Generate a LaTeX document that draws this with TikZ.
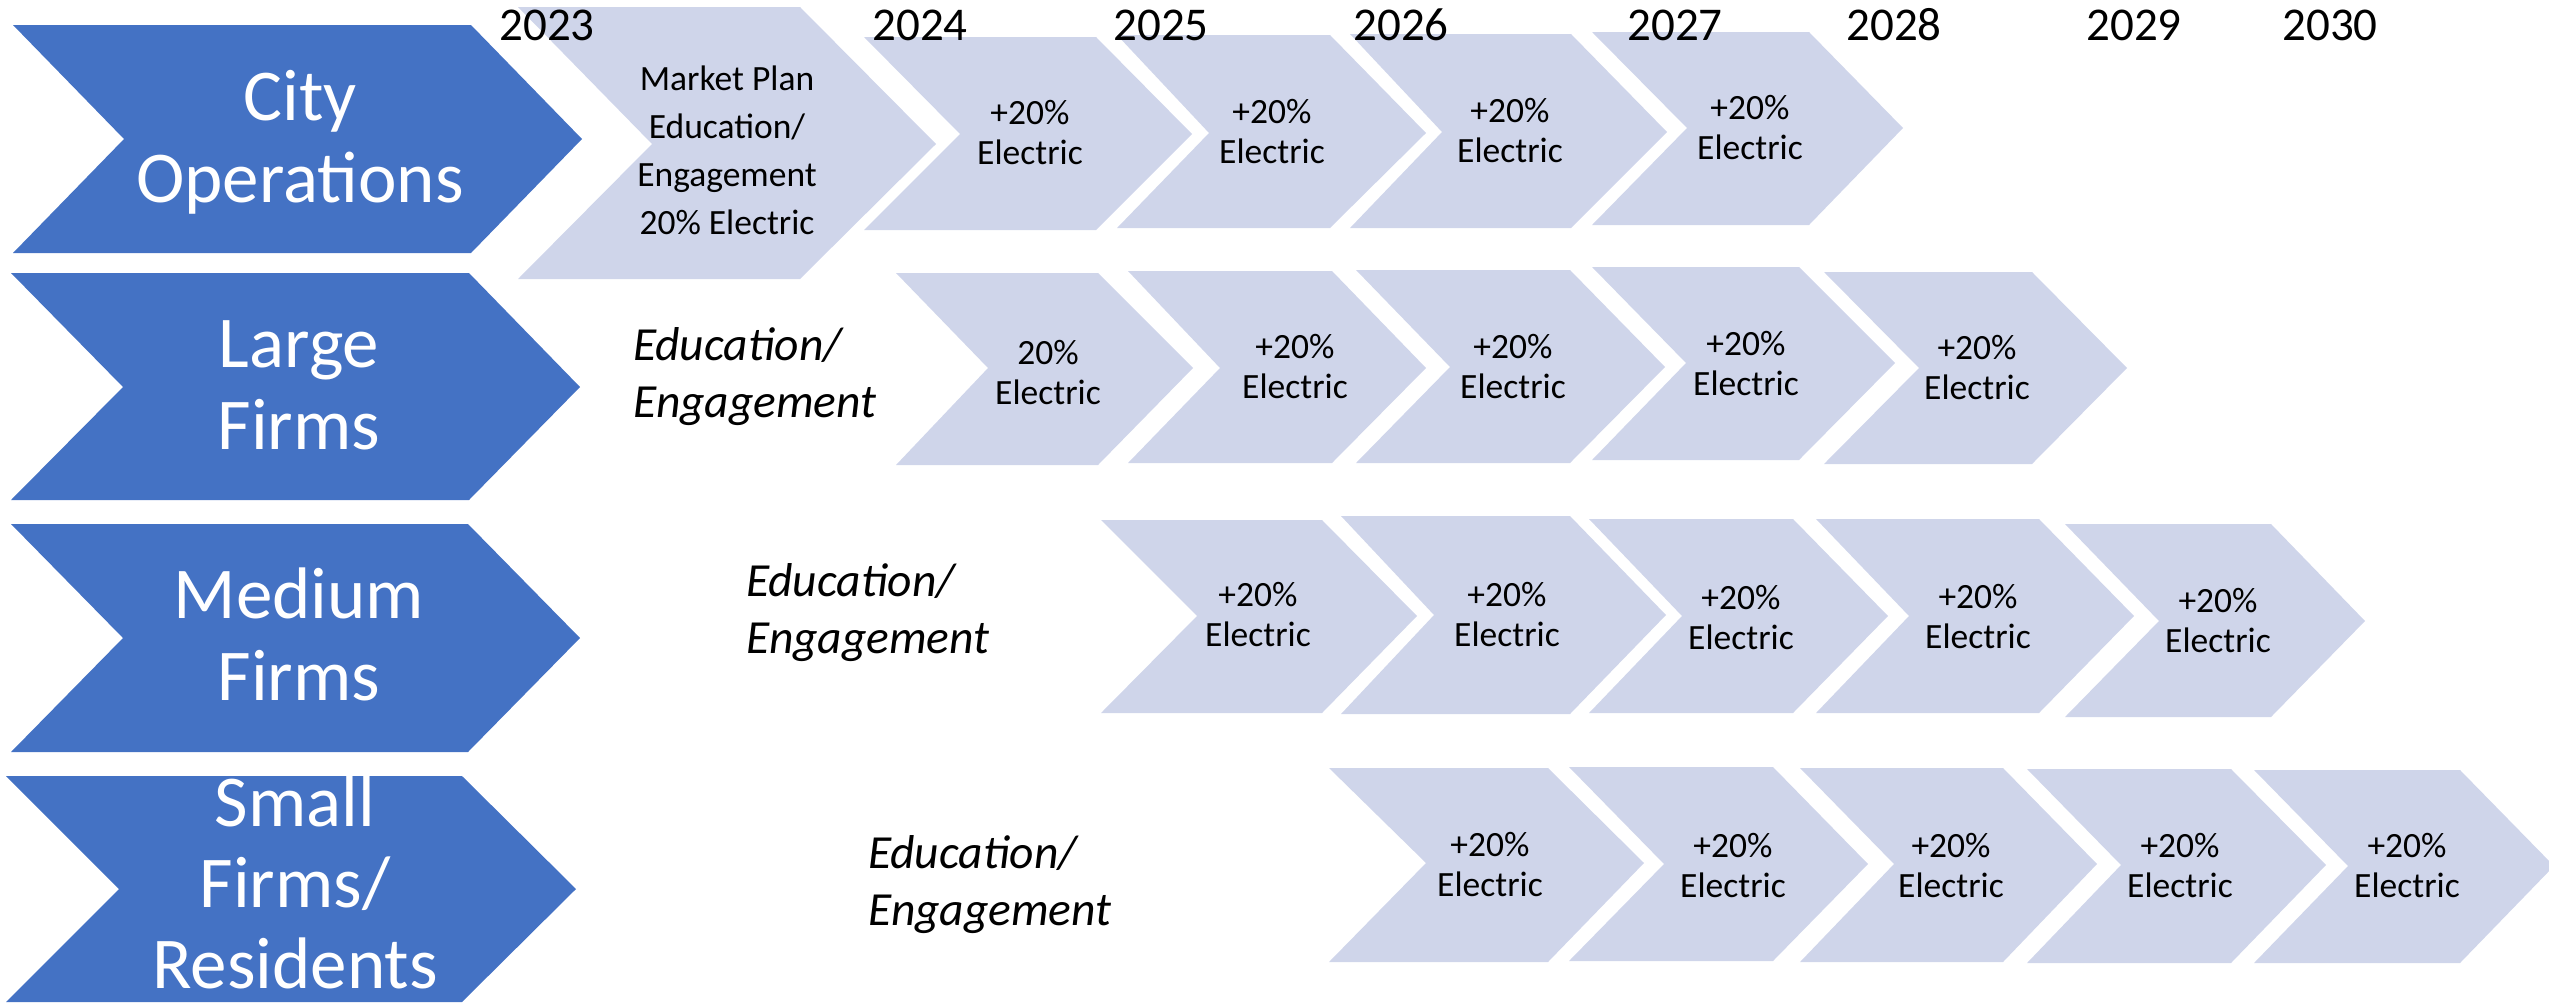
\documentclass[tikz,border=0pt]{standalone}
\usepackage{fontspec}
\setmainfont{Carlito}
\definecolor{chevblue}{HTML}{4472C4}
\definecolor{chevlight}{HTML}{CFD5EA}
\tikzset{
  bluechev/.style={fill=chevblue},
  lightchev/.style={fill=chevlight},
  bluelbl/.style={font=\fontsize{73}{82}\selectfont, align=center, inner sep=0pt, text=white},
  lbl/.style={font=\fontsize{35.5}{40}\selectfont, align=center, inner sep=0pt, text=black},
  plan/.style={font=\fontsize{35.5}{48}\selectfont, align=center, inner sep=0pt, text=black},
  edu/.style={font=\itshape\fontsize{47.5}{57}\selectfont, align=left, inner sep=0pt, anchor=west},
  yr/.style={font=\fontsize{47}{57}\selectfont, inner sep=0pt, anchor=base}
}
\begin{document}
\begin{tikzpicture}[x=1pt,y=-1pt]
\useasboundingbox (0,0) rectangle (2549,1002);
\clip (0,0) rectangle (2549,1002);
% blue row headers
\fill[bluechev] (13,25) -- (471,25) -- (582,139) -- (471,253) -- (13,253) -- (124,139) -- cycle;
\fill[bluechev] (11,273) -- (469,273) -- (580,387) -- (469,500) -- (11,500) -- (123,387) -- cycle;
\fill[bluechev] (11,524) -- (468,524) -- (580,638) -- (468,752) -- (11,752) -- (123,638) -- cycle;
\fill[bluechev] (6,776) -- (462,776) -- (576,889) -- (462,1002) -- (6,1002) -- (119,889) -- cycle;
\node[bluelbl] (city) at (300,142) {City\\Operations};
\node[bluelbl] (large) at (299,385) {Large\\Firms};
\node[bluelbl] (medium) at (299,634) {Medium\\Firms};
\node[bluelbl, font=\fontsize{73}{81}\selectfont] (small) at (295,882) {Small\\Firms/\\Residents};
% row 1
\fill[lightchev] (518,7) -- (800,7) -- (936,144) -- (800,279) -- (518,279) -- (652,144) -- cycle;
\fill[lightchev] (864,37) -- (1096,37) -- (1192,134) -- (1096,230) -- (864,230) -- (960,134) -- cycle;
\fill[lightchev] (1117,35) -- (1330,35) -- (1426,133) -- (1330,228) -- (1117,228) -- (1209,133) -- cycle;
\fill[lightchev] (1350,34) -- (1571,34) -- (1667,132) -- (1571,228) -- (1350,228) -- (1442,132) -- cycle;
\fill[lightchev] (1592,32) -- (1809,32) -- (1903,128) -- (1809,225) -- (1592,225) -- (1687,128) -- cycle;
\node[plan] (a1) at (727,150) {Market Plan\\Education/\\Engagement\\20\% Electric};
\node[lbl] (a2) at (1030,133) {+20\%\\Electric};
\node[lbl] (a3) at (1272,132) {+20\%\\Electric};
\node[lbl] (a4) at (1510,131) {+20\%\\Electric};
\node[lbl] (a5) at (1750,128) {+20\%\\Electric};
% row 2
\fill[lightchev] (896,273) -- (1098,273) -- (1193,368) -- (1098,465) -- (896,465) -- (988,368) -- cycle;
\fill[lightchev] (1128,271) -- (1332,271) -- (1426,368) -- (1332,463) -- (1128,463) -- (1220,368) -- cycle;
\fill[lightchev] (1356,270) -- (1570,270) -- (1665,367) -- (1570,463) -- (1356,463) -- (1450,367) -- cycle;
\fill[lightchev] (1592,267) -- (1799,267) -- (1895,363) -- (1799,460) -- (1592,460) -- (1686,363) -- cycle;
\fill[lightchev] (1824,272) -- (2032,272) -- (2127,368) -- (2032,464) -- (1824,464) -- (1919,368) -- cycle;
\node[edu] (e2) at (633,377) {Education/\\Engagement};
\node[lbl] (b1) at (1048,373) {20\%\\Electric};
\node[lbl] (b2) at (1295,367) {+20\%\\Electric};
\node[lbl] (b3) at (1513,367) {+20\%\\Electric};
\node[lbl] (b4) at (1746,364) {+20\%\\Electric};
\node[lbl] (b5) at (1977,368) {+20\%\\Electric};
% row 3
\fill[lightchev] (1101,520) -- (1322,520) -- (1417,616) -- (1322,713) -- (1101,713) -- (1197,616) -- cycle;
\fill[lightchev] (1341,516) -- (1570,516) -- (1666,615) -- (1570,714) -- (1341,714) -- (1434,615) -- cycle;
\fill[lightchev] (1589,519) -- (1793,519) -- (1888,616) -- (1793,713) -- (1589,713) -- (1682,616) -- cycle;
\fill[lightchev] (1816,519) -- (2039,519) -- (2134,616) -- (2039,713) -- (1816,713) -- (1909,616) -- cycle;
\fill[lightchev] (2065,524) -- (2271,524) -- (2365,621) -- (2271,717) -- (2065,717) -- (2159,621) -- cycle;
\node[edu] (e3) at (746,613) {Education/\\Engagement};
\node[lbl] (c1) at (1258,615) {+20\%\\Electric};
\node[lbl] (c2) at (1507,615) {+20\%\\Electric};
\node[lbl] (c3) at (1741,618) {+20\%\\Electric};
\node[lbl] (c4) at (1978,617) {+20\%\\Electric};
\node[lbl] (c5) at (2218,621) {+20\%\\Electric};
% row 4
\fill[lightchev] (1329,768) -- (1548,768) -- (1644,863) -- (1548,962) -- (1329,962) -- (1426,863) -- cycle;
\fill[lightchev] (1569,767) -- (1773,767) -- (1868,864) -- (1773,961) -- (1569,961) -- (1664,864) -- cycle;
\fill[lightchev] (1800,768) -- (2003,768) -- (2097,864) -- (2003,962) -- (1800,962) -- (1894,864) -- cycle;
\fill[lightchev] (2027,769) -- (2231,769) -- (2326,865) -- (2231,963) -- (2027,963) -- (2121,865) -- cycle;
\fill[lightchev] (2254,770) -- (2460,770) -- (2554,866) -- (2460,963) -- (2254,963) -- (2348,866) -- cycle;
\node[edu] (e4) at (868,885) {Education/\\Engagement};
\node[lbl] (d1) at (1490,865) {+20\%\\Electric};
\node[lbl] (d2) at (1733,866) {+20\%\\Electric};
\node[lbl] (d3) at (1951,866) {+20\%\\Electric};
\node[lbl] (d4) at (2180,866) {+20\%\\Electric};
\node[lbl] (d5) at (2407,866) {+20\%\\Electric};
% years
\node[yr] (y23) at (547,40) {2023};
\node[yr] (y24) at (920,40) {2024};
\node[yr] (y25) at (1161,40) {2025};
\node[yr] (y26) at (1401,40) {2026};
\node[yr] (y27) at (1675,40) {2027};
\node[yr] (y28) at (1894,40) {2028};
\node[yr] (y29) at (2134,40) {2029};
\node[yr] (y30) at (2330,40) {2030};
\end{tikzpicture}
\end{document}
